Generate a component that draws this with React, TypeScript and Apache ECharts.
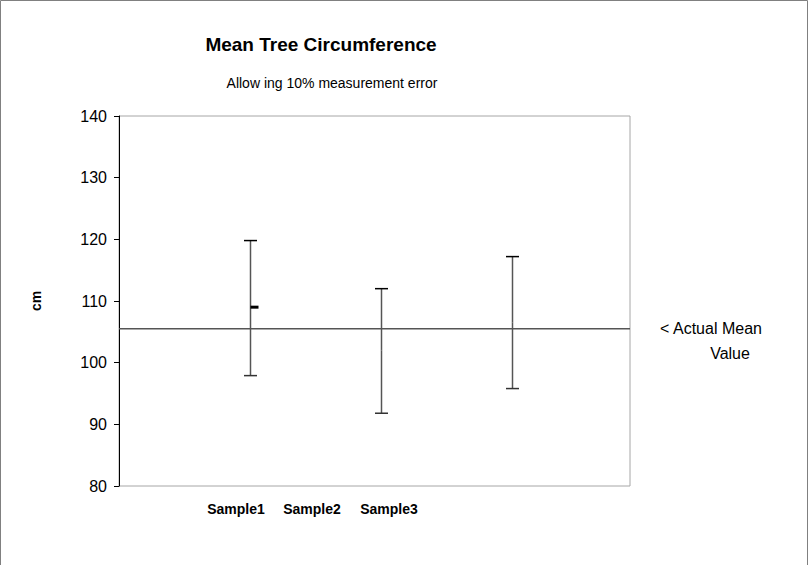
import React, { useEffect, useRef } from "react";
import * as echarts from "echarts";

const categories = ["Sample1", "Sample2", "Sample3"];
const positions = [1, 2, 3];
const means = [109, 102, 106.5];
const lows = [97.9, 91.8, 95.8];
const highs = [119.8, 112, 117.2];
const actualMean = 105.5;
const yMin = 80;
const yMax = 140;
const yStep = 10;
const meanLabel = ["< Actual Mean", "Value"];
const titleText = "Mean Tree Circumference";
const subtitleText = "Allow ing 10% measurement error";
const yName = "cm";

const FONT = "'Liberation Sans', Arial, sans-serif";

export default function App() {
  const ref = useRef<HTMLDivElement>(null);
  useEffect(() => {
    document.body.style.margin = "0";
    const chart = echarts.init(ref.current!, null, { renderer: "svg" });
    const data = positions.map((p, i) => [p, lows[i], highs[i], means[i]]);
    chart.setOption({
      animation: false,
      backgroundColor: "#ffffff",
      textStyle: { fontFamily: FONT },
      title: [
        {
          text: titleText,
          left: 316,
          top: 30,
          textAlign: "center",
          textStyle: { fontSize: 19, fontWeight: "bold", color: "#000", fontFamily: FONT },
        },
        {
          text: subtitleText,
          left: 327,
          top: 71,
          textAlign: "center",
          textStyle: { fontSize: 14, fontWeight: "normal", color: "#000", fontFamily: FONT },
        },
      ],
      grid: {
        left: 119,
        top: 116,
        right: 179,
        bottom: 79,
        show: true,
        borderColor: "#a6a6a6",
        borderWidth: 1,
        backgroundColor: "transparent",
      },
      xAxis: {
        type: "value",
        min: 0,
        max: 3.9,
        axisLine: { show: false },
        axisTick: { show: false },
        axisLabel: { show: false },
        splitLine: { show: false },
      },
      yAxis: {
        type: "value",
        min: yMin,
        max: yMax,
        interval: yStep,
        axisLine: { show: true, lineStyle: { color: "#000", width: 1 } },
        axisTick: { show: true, length: 5, lineStyle: { color: "#000" } },
        axisLabel: { fontSize: 16, color: "#000", margin: 12, fontFamily: FONT },
        splitLine: { show: false },
        name: yName,
        nameLocation: "middle",
        nameRotate: 90,
        nameGap: 76,
        nameTextStyle: { fontSize: 14, fontWeight: "bold", color: "#000", fontFamily: FONT },
      },
      series: [
        {
          type: "line",
          data: [
            [0, actualMean],
            [3.9, actualMean],
          ],
          symbol: "none",
          silent: true,
          lineStyle: { color: "#555", width: 1.5 },
          z: 1,
        },
        {
          type: "custom",
          data,
          encode: { x: 0, y: [1, 2, 3] },
          silent: true,
          z: 3,
          renderItem: (params: any, api: any) => {
            const x = api.value(0);
            const lo = api.coord([x, api.value(1)]);
            const hi = api.coord([x, api.value(2)]);
            const mid = api.coord([x, api.value(3)]);
            const cx = Math.round(lo[0]) + 0.5;
            const half = 6.5;
            const first = params.dataIndex === 0;
            return {
              type: "group",
              children: [
                {
                  type: "line",
                  shape: { x1: cx, y1: hi[1], x2: cx, y2: lo[1] },
                  style: { stroke: "#555", lineWidth: 1.5 },
                },
                {
                  type: "line",
                  shape: { x1: cx - half, y1: hi[1], x2: cx + half, y2: hi[1] },
                  style: { stroke: "#000", lineWidth: 1.5 },
                },
                {
                  type: "line",
                  shape: { x1: cx - half, y1: lo[1], x2: cx + half, y2: lo[1] },
                  style: { stroke: "#333", lineWidth: 1.5 },
                },
                {
                  type: "line",
                  shape: first
                    ? { x1: cx, y1: mid[1], x2: cx + 8, y2: mid[1] }
                    : { x1: cx - 0.5, y1: mid[1], x2: cx + 0.5, y2: mid[1] },
                  style: { stroke: first ? "#000" : "#777", lineWidth: first ? 3 : 1 },
                },
              ],
            };
          },
        },
      ],
      graphic: [
        {
          type: "rect",
          shape: { x: 0.5, y: 0.5, width: 807, height: 600 },
          style: { fill: "none", stroke: "#808080", lineWidth: 1 },
          silent: true,
        },
        ...categories.map((c, i) => ({
          type: "text",
          x: [236, 312, 389][i],
          y: 509,
          style: {
            text: c,
            fontSize: 14,
            fontWeight: "bold",
            fill: "#000",
            align: "center",
            verticalAlign: "middle",
            fontFamily: FONT,
          },
        })),
        {
          type: "text",
          x: 711,
          y: 328,
          style: {
            text: meanLabel[0],
            fontSize: 16,
            fill: "#000",
            align: "center",
            verticalAlign: "middle",
            fontFamily: FONT,
          },
        },
        {
          type: "text",
          x: 730,
          y: 353,
          style: {
            text: meanLabel[1],
            fontSize: 16,
            fill: "#000",
            align: "center",
            verticalAlign: "middle",
            fontFamily: FONT,
          },
        },
      ],
    });
    return () => chart.dispose();
  }, []);
  return <div ref={ref} style={{ width: 809, height: 565 }} />;
}
